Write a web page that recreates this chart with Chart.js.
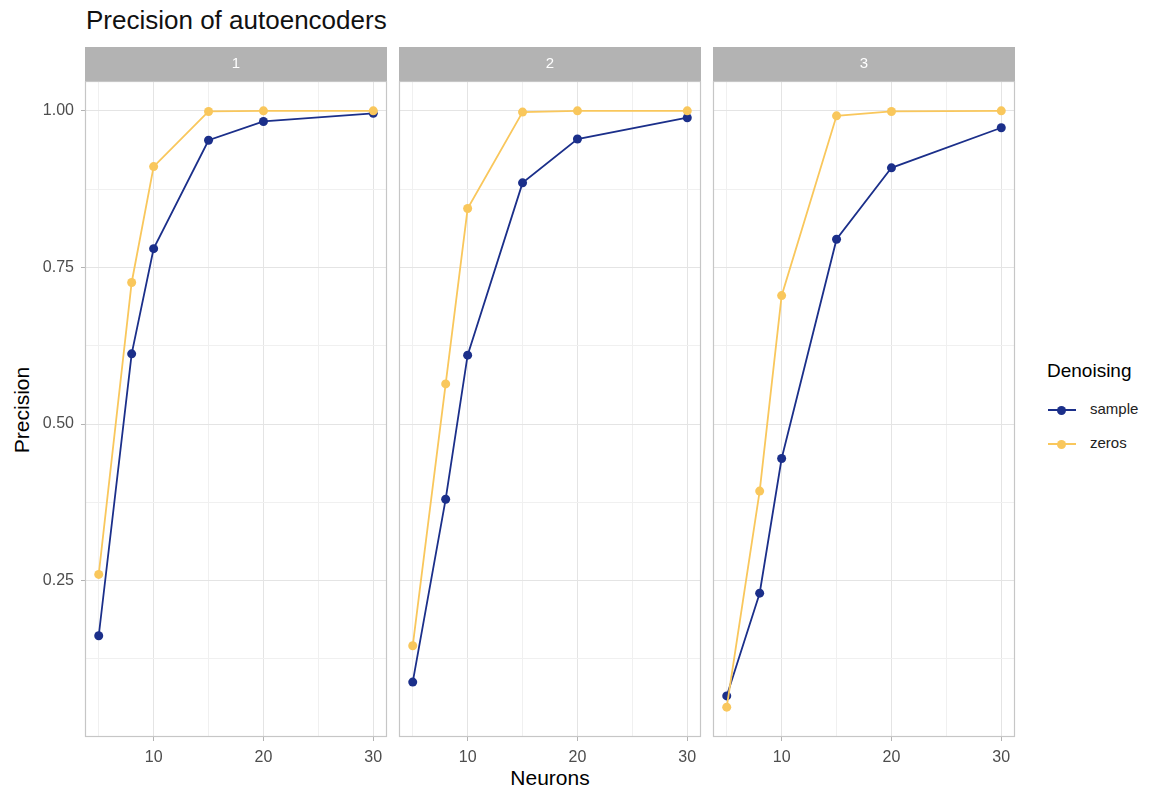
<!DOCTYPE html>
<html>
<head>
<meta charset="utf-8">
<script src="https://cdn.jsdelivr.net/npm/chart.js@4.4.1/dist/chart.umd.min.js"></script>
<style>
    body { margin: 0; background: #fff; font-family: "Liberation Sans", Arial, sans-serif; }
    #wrap { position: relative; width: 1152px; height: 789px; overflow: hidden; }
    canvas { position: absolute; }
    .txt { position: absolute; white-space: nowrap; color: #000; }
    #title { left: 86px; top: 4px; font-size: 26px; line-height: 32px; color: #111; }
    #ytitle { left: 22px; top: 410px; font-size: 21px; transform: translate(-50%, -50%) rotate(-90deg); }
    #xtitle { left: 550px; top: 778px; font-size: 21px; transform: translate(-50%, -50%); }
    #legend { position: absolute; left: 1047px; top: 357px; }
    #legend .head { font-size: 19px; line-height: 28px; margin-bottom: 12px; }
    #legend .item { position: relative; height: 34px; font-size: 15px; }
    #legend .line { position: absolute; left: 1px; top: 12px; width: 28px; height: 2px; }
    #legend .dot { position: absolute; left: 10px; top: 8.5px; width: 9px; height: 9px; border-radius: 50%; }
    #legend .lab { position: absolute; left: 43px; top: 3px; color: #222; }
</style>
</head>
<body>
<div id="wrap">
    <div id="title" class="txt">Precision of autoencoders</div>
    <div id="ytitle" class="txt">Precision</div>
    <div id="xtitle" class="txt">Neurons</div>
    <div id="legend"></div>
</div>
<script>
// data
const panels = ["1", "2", "3"];
const neurons = [5, 8, 10, 15, 20, 30];
const sample1 = [0.162, 0.612, 0.780, 0.953, 0.983, 0.996];
const zeros1 = [0.260, 0.726, 0.911, 0.999, 1.000, 1.000];
const sample2 = [0.088, 0.380, 0.610, 0.885, 0.955, 0.989];
const zeros2 = [0.146, 0.564, 0.844, 0.998, 1.000, 1.000];
const sample3 = [0.066, 0.230, 0.445, 0.795, 0.909, 0.973];
const zeros3 = [0.048, 0.393, 0.705, 0.992, 0.999, 1.000];
const sampleSeries = [sample1, sample2, sample3];
const zerosSeries = [zeros1, zeros2, zeros3];
const seriesNames = ["sample", "zeros"];

const xMajor = [10, 20, 30];
const xMinor = [5, 15, 25];
const yMajor = [0.25, 0.5, 0.75, 1.0];
const yMinor = [0.125, 0.375, 0.625, 0.875];

const colSample = "#1b2f8a";
const colZeros = "#f9c75c";

// layout
const panelLeft = [85, 399, 713];
const panelW = 302;
const stripTop = 47;
const stripH = 34;
const panelBottom = 737;
const yAxisW = 60;
const xAxisH = 40;
const padRight = 8;

const isMajor = (v, list) => list.some((m) => Math.abs(m - v) < 1e-9);

const panelFrame = {
    id: "panelFrame",
    beforeDraw(chart, args, opts) {
        const { ctx, chartArea } = chart;
        ctx.save();
        ctx.fillStyle = "#b3b3b3";
        ctx.fillRect(chartArea.left, 0, chartArea.right - chartArea.left, stripH);
        ctx.fillStyle = "#ffffff";
        ctx.font = '15px "Liberation Sans", Arial, sans-serif';
        ctx.textAlign = "center";
        ctx.textBaseline = "middle";
        ctx.fillText(opts.label, (chartArea.left + chartArea.right) / 2, stripH / 2);
        ctx.restore();
    },
    afterDatasetsDraw(chart) {
        const { ctx, chartArea } = chart;
        ctx.save();
        ctx.strokeStyle = "#c6c6c6";
        ctx.lineWidth = 1.2;
        ctx.strokeRect(chartArea.left + 0.5, chartArea.top + 0.5,
            chartArea.right - chartArea.left - 1, chartArea.bottom - chartArea.top - 1);
        ctx.restore();
    },
};

const makePanel = (i) => {
    const first = i === 0;
    const canvas = document.createElement("canvas");
    const w = yAxisW + panelW + padRight;
    const h = panelBottom - stripTop + xAxisH;
    canvas.width = w;
    canvas.height = h;
    canvas.style.left = (panelLeft[i] - yAxisW) + "px";
    canvas.style.top = stripTop + "px";
    canvas.style.width = w + "px";
    canvas.style.height = h + "px";
    document.getElementById("wrap").appendChild(canvas);

    const toPts = (arr) => neurons.map((n, k) => ({ x: n, y: arr[k] }));
    const tickFont = { family: '"Liberation Sans", Arial, sans-serif', size: 16 };

    new Chart(canvas.getContext("2d"), {
        type: "line",
        data: {
            datasets: [
                {
                    label: seriesNames[1],
                    data: toPts(zerosSeries[i]),
                    borderColor: colZeros,
                    backgroundColor: colZeros,
                    borderWidth: 1.8,
                    pointRadius: 4.5,
                    pointBorderWidth: 0,
                },
                {
                    label: seriesNames[0],
                    data: toPts(sampleSeries[i]),
                    borderColor: colSample,
                    backgroundColor: colSample,
                    borderWidth: 1.8,
                    pointRadius: 4.5,
                    pointBorderWidth: 0,
                },
            ],
        },
        options: {
            responsive: false,
            animation: false,
            layout: { padding: { top: stripH, right: padRight, left: 0, bottom: 0 } },
            plugins: {
                legend: { display: false },
                tooltip: { enabled: false },
                panelFrame: { label: panels[i] },
            },
            scales: {
                x: {
                    type: "linear",
                    min: 3.75,
                    max: 31.25,
                    afterBuildTicks: (s) => {
                        s.ticks = [...xMinor, ...xMajor].sort((a, b) => a - b).map((v) => ({ value: v }));
                    },
                    afterFit: (s) => { s.height = xAxisH; },
                    border: { display: false },
                    grid: {
                        color: (c) => (isMajor(c.tick.value, xMajor) ? "#e4e4e4" : "#f0f0f0"),
                        tickColor: (c) => (isMajor(c.tick.value, xMajor) ? "#b3b3b3" : "rgba(0,0,0,0)"),
                        lineWidth: 1,
                        tickLength: 4,
                    },
                    ticks: {
                        autoSkip: false,
                        maxRotation: 0,
                        padding: 7,
                        color: "#4d4d4d",
                        font: tickFont,
                        callback: (v) => (isMajor(v, xMajor) ? String(v) : ""),
                    },
                },
                y: {
                    min: 0.0004,
                    max: 1.0476,
                    afterBuildTicks: (s) => {
                        s.ticks = [...yMinor, ...yMajor].sort((a, b) => a - b).map((v) => ({ value: v }));
                    },
                    afterFit: (s) => { s.width = yAxisW; },
                    border: { display: false },
                    grid: {
                        color: (c) => (isMajor(c.tick.value, yMajor) ? "#e4e4e4" : "#f0f0f0"),
                        tickColor: (c) => (isMajor(c.tick.value, yMajor) && first ? "#b3b3b3" : "rgba(0,0,0,0)"),
                        lineWidth: 1,
                        tickLength: 4,
                    },
                    ticks: {
                        display: first,
                        autoSkip: false,
                        padding: 7,
                        color: "#4d4d4d",
                        font: tickFont,
                        callback: (v) => (isMajor(v, yMajor) ? v.toFixed(2) : ""),
                    },
                },
            },
        },
        plugins: [panelFrame],
    });
};

panels.forEach((p, i) => makePanel(i));

// legend
const legend = document.getElementById("legend");
legend.innerHTML = '<div class="head">Denoising</div>' +
    [[seriesNames[0], colSample], [seriesNames[1], colZeros]].map(([name, col]) =>
        `<div class="item"><div class="line" style="background:${col}"></div>` +
        `<div class="dot" style="background:${col}"></div><div class="lab">${name}</div></div>`
    ).join("");
</script>
</body>
</html>
